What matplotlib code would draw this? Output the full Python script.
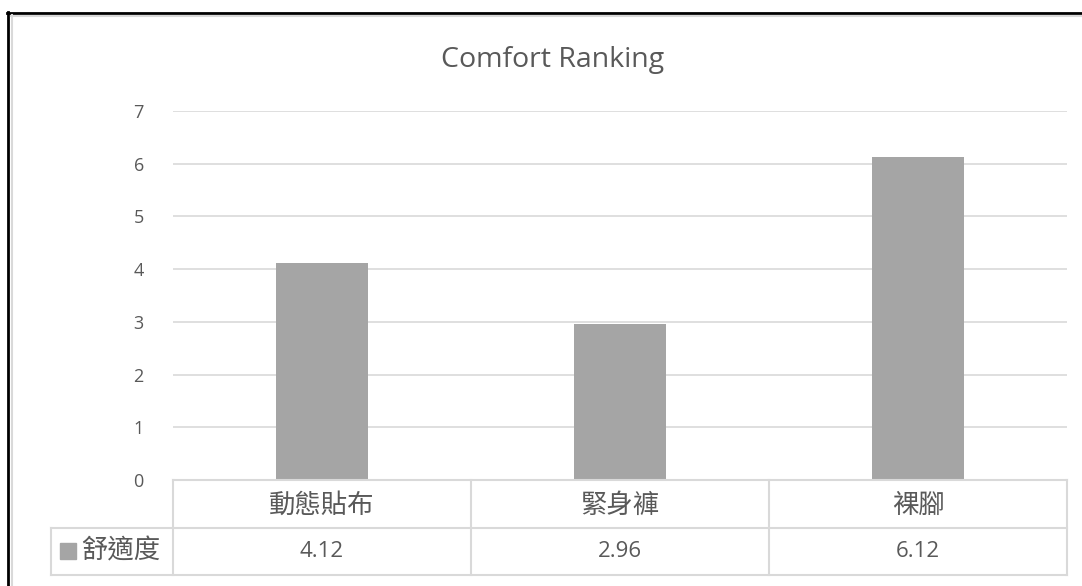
import matplotlib
matplotlib.use("Agg")
import matplotlib.pyplot as plt
from matplotlib.lines import Line2D
from matplotlib.patches import Rectangle

categories = ["動態貼布", "緊身褲", "裸腳"]
series_name = "舒適度"
values = [4.12, 2.96, 6.12]
value_labels = ["4.12", "2.96", "6.12"]
yticks = [0, 1, 2, 3, 4, 5, 6, 7]
title = "Comfort Ranking"

W, H = 1082, 586
BAR = "#a5a5a5"
GRID = "#d9d9d9"
TXT = "#595959"
LAT = ["Open Sans", "DejaVu Sans"]
CJK = ["Noto Sans CJK TC", "DejaVu Sans"]

fig = plt.figure(figsize=(W / 100, H / 100), dpi=100)

def fx(px):
    return px / W

def fy(py):
    return 1 - py / H

# outer frame
fig.add_artist(Line2D([fx(8), fx(8)], [fy(12), 0], color="black", lw=2, transform=fig.transFigure))
fig.add_artist(Line2D([fx(7), 1], [fy(12.5), fy(12.5)], color="black", lw=2, transform=fig.transFigure))
fig.add_artist(Line2D([fx(11.5), fx(11.5)], [fy(15), 0], color=GRID, lw=1.5, transform=fig.transFigure))
fig.add_artist(Line2D([fx(11), 1], [fy(15.5), fy(15.5)], color=GRID, lw=1.5, transform=fig.transFigure))

# main axes
L, R, T, B = 173, 1067, 111, 480
ax = fig.add_axes([fx(L), fy(B), fx(R) - fx(L), (B - T) / H])
x = list(range(len(categories)))
ax.bar(x, values, width=0.31, color=BAR, zorder=3)
ax.set_xlim(-0.5, len(categories) - 0.5)
ax.set_ylim(0, 7)
ax.set_yticks(yticks)
ax.set_yticklabels([str(t) for t in yticks], fontfamily=LAT, fontsize=13, color=TXT)
ax.tick_params(axis="y", length=0, pad=21)
ax.set_xticks([])
for s in ax.spines.values():
    s.set_visible(False)
ax.grid(axis="y", color=GRID, lw=1.2, zorder=0)
ax.set_axisbelow(True)

fig.text(fx(553), fy(60), title, ha="center", va="center", fontfamily=LAT, fontsize=20.5, color=TXT)

# data table below
TL, TT, TB = 51, 480, 575
tax = fig.add_axes([fx(TL), fy(TB), fx(R) - fx(TL), (TB - TT) / H])
catw = (R - L) / len(categories)
left_units = -0.5 - (L - TL) / catw
tax.set_xlim(left_units, len(categories) - 0.5)
tax.set_ylim(0, 2)
tax.axis("off")
lk = dict(color=GRID, lw=1.5, clip_on=False)
# horizontal lines
tax.plot([-0.5, len(categories) - 0.5], [2, 2], **lk)
tax.plot([left_units, len(categories) - 0.5], [1, 1], **lk)
tax.plot([left_units, len(categories) - 0.5], [0, 0], **lk)
# vertical lines
tax.plot([left_units, left_units], [0, 1], **lk)
for i in range(len(categories) + 1):
    tax.plot([i - 0.5, i - 0.5], [0, 2], **lk)
for i, (c, v) in enumerate(zip(categories, value_labels)):
    tax.text(i, 1.47, c, ha="center", va="center", fontfamily=CJK, fontsize=19, color=TXT)
    tax.text(i, 0.5, v, ha="center", va="center", fontfamily=LAT, fontsize=16, color=TXT)
# legend key + series name
keyw = 16 / catw
tax.add_patch(Rectangle((left_units + 9 / catw, 0.5 - 8 / 47.5), keyw, 16 / 47.5, color=BAR, clip_on=False))
tax.text(left_units + 30 / catw, 0.5, series_name, ha="left", va="center", fontfamily=CJK, fontsize=19, color=TXT)

fig.savefig("out.png", dpi=100, facecolor="white")
